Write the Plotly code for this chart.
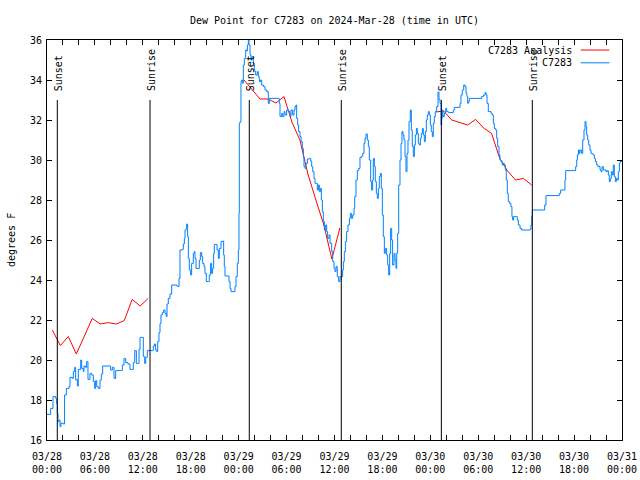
import pandas as pd
import plotly.graph_objects as go

BASE = pd.Timestamp("2024-03-28 00:00")

# Observed C7283 dew point (hours after 03/28 00:00 UTC, degrees F)
obs_hours = [0.0, 0.38, 0.46, 0.75, 1.09, 1.21, 1.29, 1.38, 1.5, 1.63, 1.75, 1.92, 2.04, 2.2, 2.42, 2.75, 2.88,
             3.17, 3.3, 3.47, 3.59, 3.72, 3.8, 3.92, 4.22, 4.34, 4.55, 4.63, 4.84, 4.97, 5.13, 5.38, 5.59, 5.8,
             5.97, 6.09, 6.22, 6.43, 6.64, 6.8, 6.97, 7.26, 7.76, 7.97, 8.18, 8.39, 8.6, 8.89, 9.22, 9.43, 9.64,
             9.85, 10.14, 10.39, 10.68, 10.81, 10.98, 11.19, 11.31, 11.52, 11.65, 11.93, 12.06, 12.23, 12.36,
             12.56, 13.19, 13.31, 13.45, 13.6, 13.74, 13.86, 14.02, 14.15, 14.27, 14.44, 14.61, 14.78, 14.94,
             15.03, 15.19, 15.4, 15.61, 16.24, 16.45, 16.53, 16.65, 16.95, 17.07, 17.2, 17.28, 17.41, 17.49,
             17.61, 17.7, 17.82, 17.99, 18.11, 18.32, 18.45, 18.53, 18.66, 18.95, 19.07, 19.2, 19.37, 19.49,
             19.66, 19.78, 19.95, 20.2, 20.32, 20.49, 20.62, 20.74, 20.87, 20.95, 21.16, 21.29, 21.45, 21.58,
             21.79, 22.0, 22.12, 22.2, 22.29, 22.62, 22.79, 22.92, 23.04, 23.42, 23.54, 23.67, 23.83, 23.96,
             24.04, 24.08, 24.17, 24.29, 24.38, 24.5, 24.58, 24.71, 24.88, 25.0, 25.09, 25.21, 25.29, 25.42,
             25.54, 25.67, 25.84, 25.96, 26.13, 26.34, 26.46, 26.59, 26.76, 26.88, 27.09, 27.3, 27.51, 27.71,
             27.84, 28.97, 29.09, 29.18, 29.39, 29.51, 29.68, 29.8, 30.01, 30.22, 30.43, 30.55, 30.76, 30.93,
             31.05, 31.18, 31.26, 31.39, 31.51, 31.68, 31.81, 31.97, 32.1, 32.18, 32.31, 32.43, 32.6, 32.85,
             33.02, 33.14, 33.27, 33.43, 33.56, 33.77, 33.85, 33.98, 34.1, 34.23, 34.35, 34.48, 34.6, 34.73,
             34.9, 35.02, 35.14, 35.31, 35.44, 35.65, 35.77, 35.94, 36.06, 36.19, 36.35, 36.52, 36.69, 36.9,
             37.02, 37.11, 37.23, 37.36, 37.52, 37.69, 37.86, 37.98, 38.15, 38.28, 38.44, 38.53, 38.69, 38.86,
             39.03, 39.19, 39.4, 39.53, 39.69, 39.82, 39.94, 40.11, 40.24, 40.36, 40.53, 40.65, 40.78, 40.86,
             40.99, 41.11, 41.24, 41.36, 41.49, 41.61, 41.74, 41.86, 41.99, 42.11, 42.24, 42.36, 42.53, 42.66,
             42.78, 42.91, 43.03, 43.16, 43.28, 43.45, 43.58, 43.7, 43.79, 43.91, 44.04, 44.2, 44.33, 44.45,
             44.58, 44.7, 44.83, 44.95, 45.08, 45.2, 45.33, 45.49, 45.62, 45.74, 45.87, 46.0, 46.12, 46.25,
             46.37, 46.5, 46.62, 46.75, 46.87, 47.0, 47.12, 47.25, 47.37, 47.5, 47.62, 47.75, 47.87, 48.0,
             48.12, 48.25, 48.37, 48.5, 48.62, 48.79, 48.96, 49.08, 49.21, 49.34, 49.42, 49.5, 49.59, 49.75,
             49.92, 50.05, 50.26, 50.88, 51.0, 51.59, 51.72, 51.84, 52.0, 52.18, 52.34, 52.47, 52.59, 52.68,
             52.76, 52.88, 54.43, 54.64, 54.85, 54.97, 55.1, 55.26, 55.6, 55.76, 55.89, 56.01, 56.18, 56.31,
             56.43, 56.6, 56.72, 56.85, 57.01, 57.14, 57.26, 57.39, 57.51, 57.64, 57.76, 57.93, 58.09, 58.22,
             58.31, 58.43, 58.77, 58.89, 59.02, 59.23, 59.44, 60.48, 60.6, 60.69, 60.77, 62.23, 62.32, 62.48,
             64.03, 64.15, 64.32, 64.78, 64.86, 64.95, 66.12, 66.2, 66.33, 66.41, 66.54, 66.66, 66.74, 66.95,
             67.08, 67.24, 67.37, 67.49, 67.58, 67.7, 67.83, 67.99, 68.12, 68.29, 68.41, 68.54, 68.66, 68.83,
             68.99, 69.25, 69.37, 69.5, 69.66, 70.0, 70.16, 70.29, 70.41, 70.54, 70.66, 70.79, 70.91, 71.04,
             71.17, 71.29, 71.42, 71.54, 71.67, 71.75, 72.0]
obs_values = [17.28, 17.28, 17.58, 18.17, 18.08, 17.83, 17.33, 16.92, 17.0, 16.67, 16.85, 16.83, 16.8, 18.25,
              18.58, 18.67, 19.13, 19.08, 19.42, 19.63, 19.0, 19.03, 18.7, 19.53, 20.0, 19.58, 19.42, 19.7,
              19.63, 19.92, 19.03, 19.33, 19.25, 18.92, 18.58, 18.97, 18.67, 18.58, 19.0, 19.3, 19.7, 19.7,
              19.7, 19.5, 19.63, 19.08, 19.47, 19.47, 19.47, 19.75, 20.08, 19.87, 19.8, 19.53, 19.53, 19.87,
              20.47, 19.83, 19.83, 20.53, 21.13, 21.13, 20.17, 19.83, 20.13, 20.47, 20.47, 20.7, 20.8, 20.5,
              20.42, 20.92, 21.37, 21.83, 22.25, 22.37, 22.5, 22.33, 22.17, 22.8, 23.08, 23.3, 23.75, 23.7,
              23.67, 24.08, 25.5, 25.53, 25.8, 26.08, 26.5, 26.58, 26.8, 26.17, 25.08, 24.5, 24.25, 24.83,
              25.33, 25.42, 25.08, 24.58, 24.58, 25.0, 25.37, 25.17, 24.83, 24.67, 24.33, 23.92, 23.92, 24.25,
              24.83, 24.33, 24.58, 25.33, 25.78, 25.78, 25.5, 25.08, 25.58, 25.92, 25.95, 25.25, 24.67, 24.2,
              24.2, 23.92, 23.58, 23.42, 23.42, 23.67, 24.17, 24.83, 25.5, 27.33, 31.83, 31.92, 33.92, 34.0,
              33.83, 34.75, 35.08, 35.5, 35.45, 35.75, 36.0, 35.75, 35.25, 35.0, 35.17, 34.83, 34.45, 34.25,
              34.42, 34.17, 33.92, 34.0, 33.75, 33.67, 33.5, 33.42, 32.83, 33.08, 33.08, 32.83, 32.17, 32.33,
              32.17, 32.42, 32.25, 32.5, 32.42, 32.17, 32.5, 32.25, 32.5, 32.67, 32.75, 32.08, 31.75, 31.42,
              31.17, 30.92, 30.58, 30.17, 29.67, 29.58, 29.83, 30.05, 30.08, 29.95, 29.67, 29.42, 29.08, 28.83,
              28.83, 28.5, 28.75, 28.42, 28.58, 28.0, 27.42, 26.92, 26.5, 26.75, 26.42, 26.08, 26.25, 25.83,
              25.42, 24.92, 24.58, 24.42, 24.67, 24.17, 23.92, 24.17, 24.17, 24.5, 24.92, 25.42, 25.92, 26.42,
              26.75, 27.08, 27.33, 27.08, 27.25, 27.58, 28.17, 29.0, 29.47, 29.58, 30.13, 30.2, 30.33, 30.83,
              31.08, 31.3, 31.0, 30.67, 30.0, 28.92, 28.5, 29.0, 30.08, 29.67, 28.92, 28.33, 28.08, 28.58,
              29.17, 29.33, 28.58, 27.25, 26.17, 25.33, 25.58, 25.25, 24.75, 24.25, 25.33, 26.58, 26.0, 24.75,
              25.33, 25.0, 24.58, 25.33, 26.33, 28.75, 30.0, 30.83, 31.42, 31.25, 31.0, 30.17, 29.42, 30.33,
              31.0, 31.92, 32.5, 31.5, 30.67, 30.17, 30.75, 31.25, 31.58, 31.33, 30.83, 30.75, 31.08, 31.33,
              31.58, 31.25, 30.92, 31.42, 32.0, 32.25, 32.42, 32.25, 31.75, 31.42, 31.17, 31.83, 32.17, 32.42,
              32.67, 33.4, 33.03, 32.83, 31.75, 32.08, 32.5, 32.17, 32.33, 32.58, 32.42, 32.37, 32.5, 32.63,
              32.63, 32.83, 33.25, 33.5, 33.75, 33.67, 33.33, 33.17, 32.83, 32.92, 33.08, 33.17, 33.25, 33.37,
              33.25, 32.83, 32.42, 32.33, 32.25, 31.83, 31.58, 31.5, 31.08, 30.67, 30.25, 30.0, 29.92, 29.75,
              29.83, 29.75, 29.5, 29.0, 28.33, 27.92, 27.83, 27.67, 27.17, 27.0, 27.17, 27.17, 27.0, 26.75,
              26.58, 26.5, 26.53, 26.75, 27.17, 27.5, 27.5, 27.75, 28.22, 28.22, 28.33, 28.5, 28.5, 29.0,
              29.47, 29.47, 29.67, 30.0, 30.25, 30.5, 30.33, 30.5, 30.33, 31.0, 31.5, 31.92, 31.67, 31.25,
              31.0, 30.75, 30.5, 30.33, 30.3, 30.25, 30.08, 29.92, 29.75, 29.67, 29.5, 29.42, 29.67, 29.5,
              29.42, 29.47, 29.25, 28.92, 29.08, 29.42, 29.25, 29.75, 29.17, 28.92, 29.08, 29.0, 29.42, 29.83,
              29.92, 29.92]

# Hourly analysis (None = no analysis)
analysis_hours = [0.67, 1.67, 2.67, 3.67, 4.67, 5.67, 6.67, 7.67, 8.67, 9.67, 10.67, 11.67, 12.67, 18.0,
                  24.67, 25.67, 26.67, 27.67, 28.67, 29.67, 30.67, 31.67, 32.67, 33.67, 34.67, 35.67, 36.67, 42.0,
                  48.67, 49.67, 50.67, 51.67, 52.67, 53.67, 54.67, 55.67, 56.67, 57.67, 58.67, 59.67, 60.67]
analysis_values = [21.5, 20.72, 21.17, 20.3, 21.19, 22.08, 21.8, 21.87, 21.8, 21.97, 23.03, 22.7, 23.08, None,
                   34.0, 33.5, 33.05, 33.05, 32.85, 33.17, 31.9, 31.0, 29.3, 28.0, 26.75, 25.05, 26.6, None,
                   32.4, 32.45, 32.0, 31.87, 31.75, 32.03, 31.6, 31.33, 30.1, 29.45, 29.0, 29.08, 28.75]

# Sunrise / sunset events
event_hours = [1.29, 12.9, 25.33, 36.85, 49.38, 60.77]
event_labels = ["Sunset", "Sunrise", "Sunset", "Sunrise", "Sunset", "Sunrise"]

x_tick_labels = ["03/28<br>00:00", "03/28<br>06:00", "03/28<br>12:00", "03/28<br>18:00",
                 "03/29<br>00:00", "03/29<br>06:00", "03/29<br>12:00", "03/29<br>18:00",
                 "03/30<br>00:00", "03/30<br>06:00", "03/30<br>12:00", "03/30<br>18:00",
                 "03/31<br>00:00"]


def to_time(h):
    return [None if v is None else BASE + pd.Timedelta(hours=v) for v in h]


FONT = "DejaVu Sans Mono"
RED = "#ff0000"
BLUE = "#0080ff"

FIG_W, FIG_H = 640, 480

fig = go.Figure()
fig.add_trace(go.Scatter(x=to_time(analysis_hours), y=analysis_values, mode="lines",
                         line=dict(color=RED, width=1), connectgaps=False,
                         name="C7283 Analysis", showlegend=False))
fig.add_trace(go.Scatter(x=to_time(obs_hours), y=obs_values, mode="lines",
                         line=dict(color=BLUE, width=1, shape="hv"),
                         name="C7283", showlegend=False))

for h, lab in zip(event_hours, event_labels):
    t = BASE + pd.Timedelta(hours=h)
    fig.add_shape(type="line", xref="x", yref="y", x0=t, x1=t, y0=16, y1=33,
                  line=dict(color="black", width=1))
    fig.add_annotation(x=t, y=33, xref="x", yref="y", text=lab, textangle=-90,
                       showarrow=False, xanchor="center", yanchor="bottom", yshift=7, xshift=1,
                       font=dict(family=FONT, size=10, color="black"))

# tick positions every 2 hours, labels every 6 hours
tick_vals = [BASE + pd.Timedelta(hours=2 * i) for i in range(37)]
tick_text = [x_tick_labels[i // 3] if i % 3 == 0 else "" for i in range(37)]

# Legend (gnuplot style: text then sample)
legend_items = [("C7283 Analysis", RED, 0.975), ("C7283", BLUE, 0.943)]
for txt, col, yy in legend_items:
    fig.add_annotation(x=0.9165, y=yy, xref="paper", yref="paper", text=txt, showarrow=False,
                       xanchor="right", yanchor="middle", font=dict(family=FONT, size=10, color="black"))
    fig.add_shape(type="line", xref="paper", yref="paper", x0=0.928, x1=0.978, y0=yy, y1=yy,
                  line=dict(color=col, width=1))

fig.add_annotation(x=-36 / 575, y=0.5, xref="paper", yref="paper", text="degrees F", textangle=-90,
                   showarrow=False, xanchor="center", yanchor="middle",
                   font=dict(family=FONT, size=10, color="black"))

fig.update_layout(
    width=FIG_W, height=FIG_H,
    margin=dict(l=47, r=18, t=40, b=40, autoexpand=False),
    paper_bgcolor="white", plot_bgcolor="white",
    font=dict(family=FONT, size=10, color="black"),
    title=dict(text="Dew Point for C7283 on 2024-Mar-28 (time in UTC)", x=0.5, xref="paper",
               y=1 - 20 / FIG_H, yref="container", xanchor="center", yanchor="middle",
               font=dict(family=FONT, size=10, color="black")),
    showlegend=False,
)
fig.update_xaxes(range=[BASE, BASE + pd.Timedelta(hours=72)], tickmode="array",
                 tickvals=tick_vals, ticktext=tick_text, ticks="inside", ticklen=5,
                 tickcolor="black", showline=True, linecolor="black", linewidth=1, mirror="ticks",
                 showgrid=False, zeroline=False, tickfont=dict(family=FONT, size=10),
                 ticklabelstandoff=7)
fig.update_yaxes(range=[16, 36], dtick=2, tick0=16, ticks="inside", ticklen=5, tickcolor="black",
                 showline=True, linecolor="black", linewidth=1, mirror="ticks",
                 showgrid=False, zeroline=False, tickfont=dict(family=FONT, size=10),
                 ticklabelstandoff=2)

# remove the default 8px page margin so the 640x480 figure fills the window exactly
fig.write_html("out.html",
               config={"displayModeBar": False, "staticPlot": True},
               post_script="document.body.style.margin='0';document.body.style.overflow='hidden';")
